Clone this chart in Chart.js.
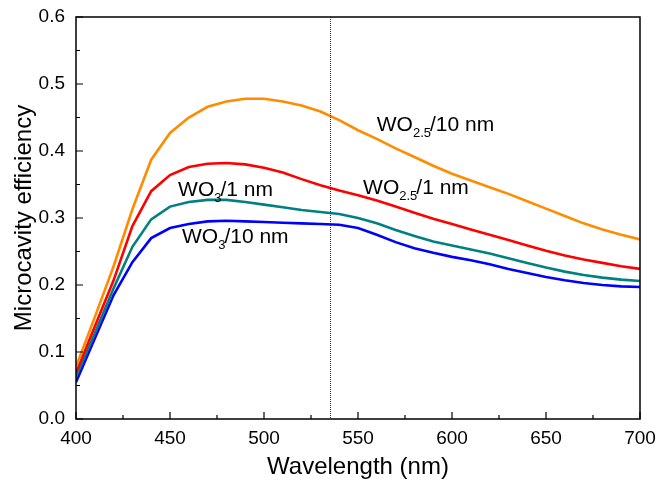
<!DOCTYPE html>
<html>
<head>
<meta charset="utf-8">
<script src="https://cdn.jsdelivr.net/npm/chart.js@4/dist/chart.umd.min.js"></script>
<style>
  html, body { margin: 0; padding: 0; background: #fff; }
  #wrap { width: 656px; height: 486px; }
</style>
</head>
<body>
<div id="wrap"><canvas id="c" width="656" height="486"></canvas></div>
<script>
const wavelengths = [400,410,420,430,440,450,460,470,480,490,500,510,520,530,540,550,560,570,580,590,600,610,620,630,640,650,660,670,680,690,700];
const wo25_10nm = [0.078,0.152,0.228,0.313,0.387,0.427,0.450,0.466,0.474,0.478,0.478,0.474,0.468,0.459,0.446,0.431,0.418,0.404,0.391,0.378,0.366,0.356,0.346,0.336,0.325,0.314,0.303,0.292,0.283,0.275,0.268];
const wo25_1nm  = [0.069,0.138,0.207,0.288,0.340,0.364,0.376,0.381,0.382,0.380,0.375,0.368,0.358,0.349,0.341,0.334,0.326,0.317,0.308,0.299,0.291,0.283,0.275,0.267,0.259,0.251,0.244,0.238,0.233,0.228,0.224];
const wo3_1nm   = [0.063,0.128,0.195,0.257,0.298,0.317,0.324,0.327,0.327,0.324,0.320,0.316,0.312,0.309,0.306,0.300,0.292,0.282,0.273,0.265,0.259,0.253,0.247,0.240,0.233,0.226,0.220,0.215,0.211,0.208,0.206];
const wo3_10nm  = [0.055,0.120,0.185,0.234,0.270,0.285,0.291,0.295,0.296,0.295,0.294,0.293,0.292,0.291,0.290,0.285,0.275,0.264,0.255,0.248,0.242,0.237,0.231,0.224,0.218,0.212,0.207,0.203,0.200,0.198,0.197];
const xTicks = [400,450,500,550,600,650,700];
const yTicks = [0.0,0.1,0.2,0.3,0.4,0.5,0.6];
const markerWavelength = 535;
const labels = [
  {main:'WO', sub:'2.5', rest:'/10 nm', x:560, y:0.430},
  {main:'WO', sub:'2.5', rest:'/1 nm',  x:552.7, y:0.336},
  {main:'WO', sub:'3',   rest:'/1 nm',  x:454.3, y:0.333},
  {main:'WO', sub:'3',   rest:'/10 nm', x:456.4, y:0.263}
];

const FONT = '"Liberation Sans", Arial, Helvetica, sans-serif';

function pts(arr){ return wavelengths.map((w,i)=>({x:w,y:arr[i]})); }

const framePlugin = {
  id: 'frame',
  afterDatasetsDraw(chart) {
    const {ctx, chartArea:a, scales:{x, y}} = chart;
    ctx.save();
    ctx.strokeStyle = '#333';
    ctx.lineWidth = 1;
    ctx.setLineDash([1,1]);
    const mx = Math.round(x.getPixelForValue(markerWavelength)) + 0.5;
    ctx.beginPath(); ctx.moveTo(mx, a.top); ctx.lineTo(mx, a.bottom); ctx.stroke();
    ctx.setLineDash([]);
    ctx.strokeStyle = '#000';
    ctx.lineWidth = 1.5;
    ctx.strokeRect(a.left, a.top, a.right - a.left, a.bottom - a.top);
    ctx.lineWidth = 1.2;
    ctx.beginPath();
    for (let v = 400; v <= 700; v += 25) {
      const px = x.getPixelForValue(v);
      const len = (v % 50 === 0) ? 7 : 4;
      ctx.moveTo(px, a.bottom); ctx.lineTo(px, a.bottom - len);
    }
    for (let k = 0; k <= 12; k++) {
      const v = k * 0.05;
      const py = y.getPixelForValue(v);
      const len = (k % 2 === 0) ? 7 : 4;
      ctx.moveTo(a.left, py); ctx.lineTo(a.left + len, py);
    }
    ctx.stroke();
    ctx.fillStyle = '#000';
    ctx.textBaseline = 'alphabetic';
    ctx.textAlign = 'left';
    labels.forEach(l => {
      let px = x.getPixelForValue(l.x);
      const py = y.getPixelForValue(l.y);
      ctx.font = '21px ' + FONT;
      ctx.fillText(l.main, px, py);
      px += ctx.measureText(l.main).width;
      ctx.font = '13px ' + FONT;
      ctx.fillText(l.sub, px, py + 6);
      px += ctx.measureText(l.sub).width - 1;
      ctx.font = '21px ' + FONT;
      ctx.fillText(l.rest, px, py);
    });
    ctx.restore();
  }
};

const ds = (label, data, color) => ({
  label, data: pts(data), borderColor: color, backgroundColor: color,
  borderWidth: 2.6, pointRadius: 0, tension: 0, fill: false
});

new Chart(document.getElementById('c'), {
  type: 'line',
  data: {
    datasets: [
      ds('WO2.5/10 nm', wo25_10nm, '#FF8C00'),
      ds('WO2.5/1 nm', wo25_1nm, '#FF0000'),
      ds('WO3/1 nm', wo3_1nm, '#008080'),
      ds('WO3/10 nm', wo3_10nm, '#0000FF')
    ]
  },
  options: {
    responsive: false,
    animation: false,
    layout: { padding: { left: 0, right: 16, top: 17, bottom: 0 } },
    plugins: { legend: { display: false }, tooltip: { enabled: false } },
    scales: {
      x: {
        type: 'linear', min: 400, max: 700,
        afterFit(s) { s.height = 67; s.paddingLeft = 0; s.paddingRight = 0; },
        afterBuildTicks(s) { s.ticks = xTicks.map(v => ({value: v})); },
        grid: { display: false, drawTicks: false },
        border: { display: false },
        ticks: { color: '#000', padding: 8, font: { family: FONT, size: 19 }, maxRotation: 0 },
        title: { display: true, text: 'Wavelength (nm)', color: '#000', font: { family: FONT, size: 24 }, padding: { top: 0, bottom: 4 } }
      },
      y: {
        type: 'linear', min: 0, max: 0.6,
        afterFit(s) { s.width = 76; s.paddingTop = 0; s.paddingBottom = 0; },
        afterBuildTicks(s) { s.ticks = yTicks.map(v => ({value: v})); },
        grid: { display: false, drawTicks: false },
        border: { display: false },
        ticks: { color: '#000', padding: 11, font: { family: FONT, size: 19 }, callback: v => Number(v).toFixed(1) },
        title: { display: true, text: 'Microcavity efficiency', color: '#000', font: { family: FONT, size: 24 }, padding: { top: 10, bottom: 0 } }
      }
    }
  },
  plugins: [framePlugin]
});
</script>
</body>
</html>
